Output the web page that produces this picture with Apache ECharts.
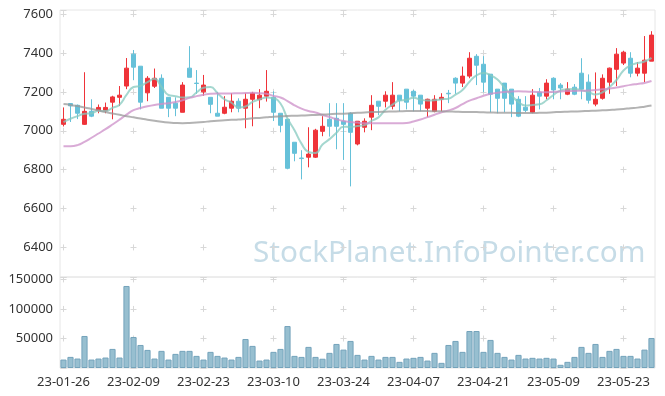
<!DOCTYPE html>
<html><head><meta charset="utf-8">
<script src="https://cdn.jsdelivr.net/npm/echarts@6/dist/echarts.min.js"></script>
<style>html,body{margin:0;padding:0;background:#fff}#c{width:665px;height:396px}</style>
</head><body><div id="c"></div>
<script>
const dates = ['23-01-26','23-01-27','23-01-30','23-01-31','23-02-01','23-02-02','23-02-03','23-02-06','23-02-07','23-02-08',
'23-02-09','23-02-10','23-02-13','23-02-14','23-02-15','23-02-16','23-02-17','23-02-20','23-02-21','23-02-22',
'23-02-23','23-02-24','23-02-27','23-02-28','23-03-02','23-03-03','23-03-06','23-03-07','23-03-08','23-03-09',
'23-03-10','23-03-13','23-03-14','23-03-15','23-03-16','23-03-17','23-03-20','23-03-21','23-03-22','23-03-23',
'23-03-24','23-03-27','23-03-28','23-03-29','23-03-30','23-03-31','23-04-03','23-04-04','23-04-05','23-04-06',
'23-04-07','23-04-10','23-04-11','23-04-12','23-04-13','23-04-14','23-04-17','23-04-18','23-04-19','23-04-20',
'23-04-21','23-04-24','23-04-25','23-04-26','23-04-27','23-04-28','23-05-02','23-05-03','23-05-04','23-05-08',
'23-05-09','23-05-10','23-05-11','23-05-12','23-05-15','23-05-16','23-05-17','23-05-18','23-05-19','23-05-22',
'23-05-23','23-05-24','23-05-25','23-05-26','23-05-30'];
const opens = [7033,7140,7131,7033,7100,7105,7105,7147,7172,7230, 7394,7332,7195,7229,7270,7172,7142,7095,7322,7245,
7200,7172,7090,7090,7116,7152,7116,7162,7160,7178, 7172,7090,7059,6941,6860,6864,6864,6997,7059,7064,
7049,7090,6932,7018,7070,7152,7152,7126,7183,7214, 7203,7183,7116,7100,7162,7193,7270,7245,7281,7383,
7342,7291,7214,7245,7214,7162,7121,7095,7198,7178, 7270,7235,7188,7224,7296,7250,7137,7167,7250,7316,
7348,7373,7296,7296,7358];
const closes = [7059,7128,7090,7100,7075,7120,7120,7174,7183,7322, 7327,7147,7270,7270,7116,7116,7116,7235,7275,7243,
7235,7136,7075,7121,7152,7116,7162,7193,7183,7203, 7095,7028,6807,6884,6857,6880,7003,7023,7023,7023,
7033,6992,7049,7049,7131,7126,7183,7183,7157,7147, 7178,7137,7162,7162,7172,7190,7245,7281,7373,7337,
7250,7188,7167,7167,7137,7075,7105,7183,7178,7245, 7210,7220,7214,7188,7214,7157,7162,7270,7322,7394,
7404,7296,7322,7363,7492];
const lows = [7022,7045,7060,7030,7070,7090,7090,7059,7127,7214, 7260,7110,7152,7220,7116,7070,7075,7095,7275,7190,
7180,7090,7075,7085,7095,7095,7013,7023,7116,7150, 7050,6992,6802,6843,6750,6812,6860,6972,6970,6905,
6850,6714,6925,6992,7003,7080,7120,7110,7100,7110, 7100,7100,7070,7095,7100,7142,7190,7225,7270,7235,
7198,7095,7090,7095,7070,7070,7095,7090,7110,7162, 7162,7162,7183,7183,7162,7140,7126,7160,7190,7230,
7338,7275,7280,7250,7358];
const highs = [7120,7142,7135,7301,7162,7135,7145,7180,7230,7374, 7415,7332,7281,7320,7290,7172,7172,7250,7435,7312,
7287,7172,7200,7178,7193,7167,7193,7200,7214,7312, 7203,7090,7059,6941,6900,7018,7010,7075,7142,7142,
7142,7095,7049,7064,7183,7152,7203,7250,7183,7214, 7210,7183,7165,7183,7193,7210,7275,7330,7404,7394,
7384,7291,7214,7245,7214,7178,7178,7214,7220,7265, 7275,7245,7250,7240,7373,7290,7300,7290,7325,7425,
7410,7404,7353,7487,7512];
const ma5 = [7045,7062,7075,7088,7090,7103,7101,7118,7134,7184, 7225,7231,7250,7267,7226,7184,7178,7171,7172,7197,
7221,7225,7193,7162,7144,7120,7125,7149,7161,7171, 7167,7140,7063,7003,6934,6891,6886,6929,6957,6990,
7021,7019,7024,7029,7051,7069,7108,7134,7156,7159, 7170,7160,7156,7157,7162,7165,7186,7210,7252,7285,
7297,7286,7263,7222,7182,7147,7130,7133,7136,7157, 7184,7207,7213,7215,7209,7199,7187,7198,7225,7261,
7310,7337,7348,7356,7375];
const ma20 = [6920,6920,6926,6943,6964,6986,7008,7032,7057,7083, 7106,7117,7126,7133,7138,7142,7148,7157,7169,7178,
7185,7190,7191,7191,7192,7193,7194,7195,7193,7190, 7179,7171,7153,7131,7114,7102,7094,7081,7071,7059,
7050,7045,7042,7039,7039,7039,7039,7039,7039,7040, 7048,7058,7070,7082,7095,7105,7117,7137,7155,7167,
7180,7190,7195,7199,7202,7203,7202,7200,7199,7198, 7200,7202,7204,7205,7206,7207,7210,7213,7217,7222,
7229,7236,7241,7246,7256];
const ma60 = [7137,7133,7127,7120,7112,7104,7096,7089,7082,7075, 7069,7063,7057,7052,7046,7042,7040,7039,7040,7042,
7045,7049,7052,7054,7056,7058,7061,7064,7066,7069, 7072,7074,7076,7077,7078,7080,7081,7083,7085,7087,
7088,7090,7092,7094,7096,7097,7098,7099,7100,7101, 7101,7101,7101,7100,7100,7099,7098,7097,7097,7096,
7095,7094,7093,7093,7092,7091,7091,7091,7092,7093, 7095,7097,7098,7099,7100,7102,7103,7105,7107,7109,
7112,7116,7119,7124,7130];
const volumes = [14300,18800,16000,54200,14300,16000,17700,32300,17700,138800, 52500,39000,30600,16000,29000,14300,23900,29000,29000,20500,
14300,27300,20500,17700,14300,18800,49100,37400,12600,14300, 27300,32300,71000,20500,18800,35700,18800,15700,25600,40700,
31100,45800,22200,14300,20500,14300,18800,18800,10400,16000, 17200,18800,12600,25600,8700,39000,45800,27300,62600,62600,
27300,47500,25600,18800,14300,22200,16000,17200,16000,17200, 16000,5400,10400,18800,35700,25600,40700,18800,29000,32300,
20500,20500,16000,31100,50800];
const watermark = 'StockPlanet.InfoPointer.com';

const chart = echarts.init(document.getElementById('c'), null, {renderer: 'canvas'});
const font = 'Noto Sans';
const candleData = dates.map((d, i) => [opens[i], closes[i], lows[i], highs[i]]);
const lbl = {color: '#333', fontSize: 13, fontFamily: font};
const plain = v => String(v);
chart.setOption({
  animation: false,
  backgroundColor: '#fff',
  grid: [
    {left: 60, right: 10, top: 10, height: 267, show: true, borderColor: '#e6e6e6', borderWidth: 1},
    {left: 60, right: 10, top: 277, height: 91, show: true, borderColor: '#e6e6e6', borderWidth: 1}
  ],
  graphic: [{type: 'text', left: 253, top: 239, z: 0, silent: true,
    style: {text: watermark, fill: '#c6dce7', fontSize: 29.7, fontFamily: font}}],
  xAxis: [
    {type: 'category', gridIndex: 0, data: dates, boundaryGap: true,
     axisLine: {show: false}, axisTick: {show: false}, axisLabel: {show: false, interval: 9},
     splitLine: {show: true, alignWithLabel: true, interval: 9, lineStyle: {color: '#d8d8d8', width: 1, type: [6, 32.89], dashOffset: 37.8}}},
    {type: 'category', gridIndex: 1, data: dates, boundaryGap: true,
     axisLine: {show: false}, axisTick: {show: false},
     axisLabel: Object.assign({interval: 9, margin: 8}, lbl),
     splitLine: {show: true, alignWithLabel: true, interval: 9, lineStyle: {color: '#d8d8d8', width: 1, type: [6, 23.55], dashOffset: 0.6}}}
  ],
  yAxis: [
    {type: 'value', gridIndex: 0, min: 6248, max: 7621, splitNumber: 7, scale: true,
     axisLine: {show: false}, axisTick: {show: false},
     axisLabel: Object.assign({showMinLabel: false, showMaxLabel: false, margin: 7, formatter: plain}, lbl),
     splitLine: {show: true, lineStyle: {color: '#d8d8d8', width: 1, type: [6, 64], dashOffset: 69.5}}},
    {type: 'value', gridIndex: 1, min: 0, max: 154000, interval: 50000,
     axisLine: {show: false}, axisTick: {show: false},
     axisLabel: Object.assign({showMinLabel: false, showMaxLabel: false, margin: 7, formatter: plain}, lbl),
     splitLine: {show: true, lineStyle: {color: '#d8d8d8', width: 1, type: [6, 64], dashOffset: 69.5}}}
  ],
  series: [
    {type: 'candlestick', name: 'price', xAxisIndex: 0, yAxisIndex: 0, data: candleData, barWidth: 5,
     itemStyle: {color: '#ef3339', color0: '#66c1d9', borderColor: '#ef3339', borderColor0: '#66c1d9', borderWidth: 1}},
    {type: 'line', name: 'MA5', xAxisIndex: 0, yAxisIndex: 0, data: ma5, smooth: true, showSymbol: false,
     lineStyle: {color: '#86c9bf', width: 2, opacity: 0.75}},
    {type: 'line', name: 'MA20', xAxisIndex: 0, yAxisIndex: 0, data: ma20, smooth: true, showSymbol: false,
     lineStyle: {color: '#cc8fc8', width: 2, opacity: 0.75}},
    {type: 'line', name: 'MA60', xAxisIndex: 0, yAxisIndex: 0, data: ma60, smooth: true, showSymbol: false,
     lineStyle: {color: '#999999', width: 2, opacity: 0.75}},
    {type: 'bar', name: 'volume', xAxisIndex: 1, yAxisIndex: 1, data: volumes, barCategoryGap: '12%',
     itemStyle: {color: '#97bfd0', borderColor: '#74a3bb', borderWidth: 1}}
  ]
});
</script></body></html>
